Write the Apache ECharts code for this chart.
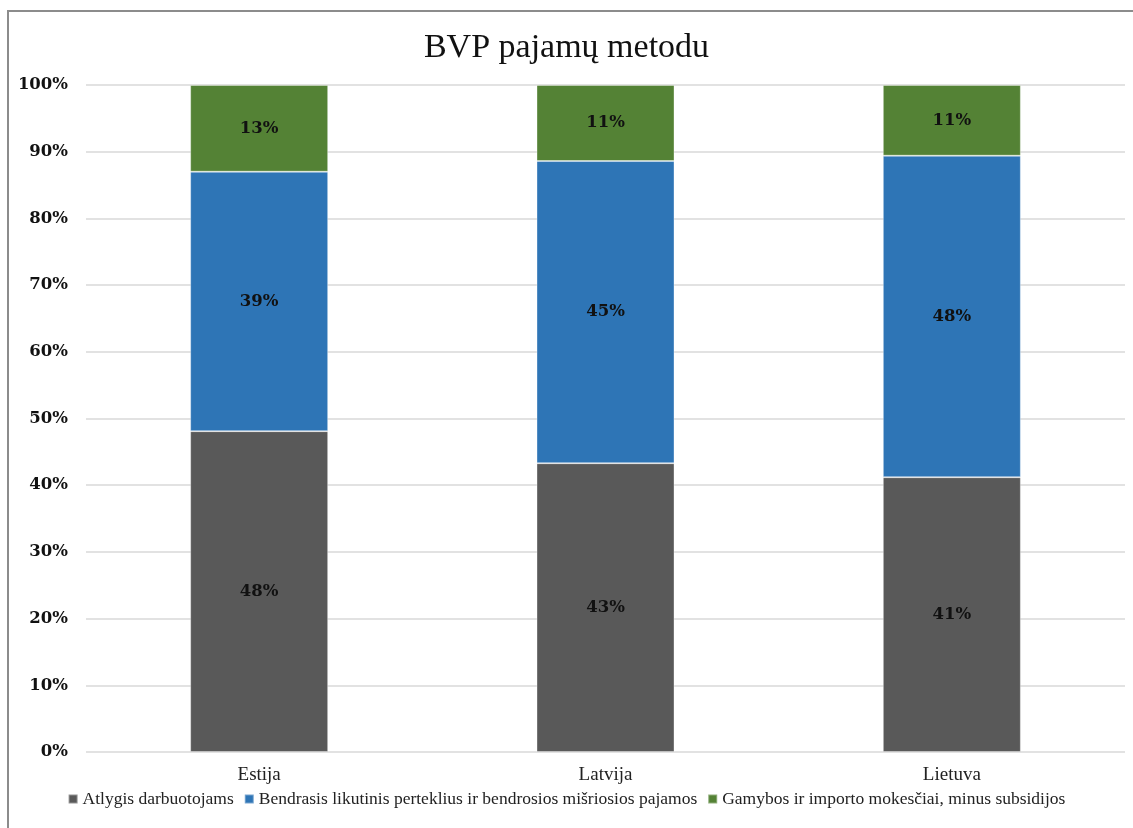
<!DOCTYPE html>
<html>
<head>
<meta charset="utf-8">
<script src="https://cdn.jsdelivr.net/npm/echarts@6/dist/echarts.min.js"></script>
<style>
  html, body { margin: 0; padding: 0; background: #fff; }
  .frame {
    position: absolute;
    left: 7px;
    top: 10px;
    width: 1140px;
    height: 830px;
    border: 2px solid #8c8c8c;
    box-sizing: border-box;
  }
  #chart { position: absolute; left: 0; top: 0; width: 1133px; height: 828px; }
</style>
</head>
<body>
<div class="frame"></div>
<div id="chart"></div>
<script>
const countries = ['Estija', 'Latvija', 'Lietuva']
const seriesNames = [
  'Atlygis darbuotojams',
  'Bendrasis likutinis perteklius ir bendrosios mišriosios pajamos',
  'Gamybos ir importo mokesčiai, minus subsidijos'
]
const compensation = [48.1, 43.3, 41.2]
const surplus = [38.9, 45.3, 48.2]
const taxes = [13.0, 11.4, 10.6]
const colors = ['#595959', '#2e75b6', '#548235']

const serif = '"Liberation Serif", "DejaVu Serif", serif'
const wideSerif = '"DejaVu Serif", "Liberation Serif", serif'

const chart = echarts.init(document.getElementById('chart'))

function makeSeries(name, data, color) {
  return {
    name,
    type: 'bar',
    stack: 'total',
    barWidth: 138,
    data,
    itemStyle: { color, borderColor: 'rgba(255,255,255,0.35)', borderWidth: 1 },
    label: {
      show: true,
      position: 'inside',
      formatter: (p) => Math.round(p.value) + '%',
      fontFamily: wideSerif,
      fontWeight: 'bold',
      fontSize: 16.5,
      color: '#111'
    }
  }
}

chart.setOption({
  animation: false,
  title: {
    text: 'BVP pajamų metodu',
    left: 'center',
    top: 26,
    textStyle: { fontFamily: serif, fontWeight: 'normal', fontSize: 34, color: '#111' }
  },
  legend: {
    bottom: 15,
    left: 'center',
    itemWidth: 9,
    itemHeight: 9,
    itemGap: 10,
    icon: 'rect',
    textStyle: { fontFamily: serif, fontSize: 17.5, color: '#222' },
    data: seriesNames
  },
  grid: { left: 86, right: 8, top: 85, bottom: 76 },
  xAxis: {
    type: 'category',
    data: countries,
    axisLine: { show: false },
    axisTick: { show: false },
    axisLabel: { fontFamily: serif, fontSize: 19, color: '#222', margin: 14 }
  },
  yAxis: {
    type: 'value',
    min: 0,
    max: 100,
    interval: 10,
    axisLine: { show: false },
    axisTick: { show: false },
    splitLine: { lineStyle: { color: '#d9d9d9', width: 1.5 } },
    axisLabel: {
      formatter: '{value}%',
      fontFamily: wideSerif,
      fontWeight: 'bold',
      fontSize: 16.5,
      color: '#111',
      margin: 18
    }
  },
  series: [
    makeSeries(seriesNames[0], compensation, colors[0]),
    makeSeries(seriesNames[1], surplus, colors[1]),
    makeSeries(seriesNames[2], taxes, colors[2])
  ]
})
</script>
</body>
</html>
